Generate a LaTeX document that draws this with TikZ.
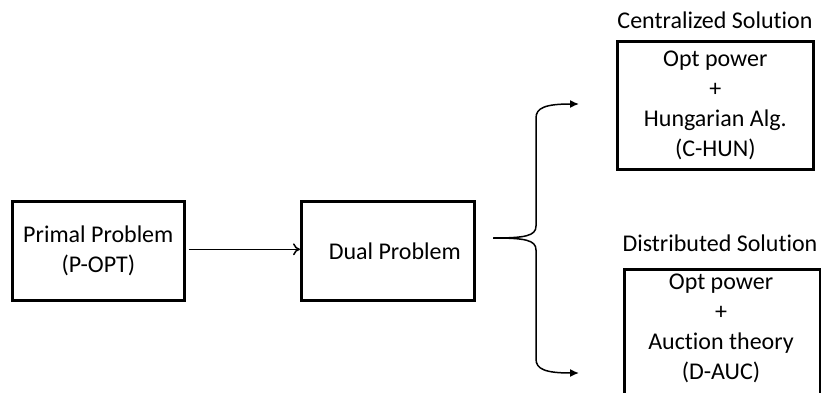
\documentclass[tikz,border=0pt]{standalone}
\usepackage{fontspec}
\setmainfont{Carlito}[Ligatures=NoCommon]
\usetikzlibrary{arrows.meta}
\begin{document}
\begin{tikzpicture}[x=1pt,y=-1pt,
  font=\fontsize{24}{30}\selectfont,
  box/.style={draw, line width=2.6pt, inner sep=0pt, anchor=north west, align=center},
  link/.style={line width=1.5pt},
  title/.style={inner sep=0pt}]
\useasboundingbox (0,0) rectangle (821,393);

% problem boxes
\node[box, minimum width=172pt, minimum height=99pt] (primal) at (11,200)
  {Primal Problem\\(P-OPT)};
\node[box, minimum width=173pt, minimum height=99pt] (dual) at (300,200)
  {\hspace*{14pt}Dual Problem};
\path (primal.east) ++(3pt,1.5pt) coordinate (pstart);
\draw[link, -{To[length=7pt,width=12pt]}] (pstart) -- (pstart -| dual.west);

% solution boxes
\node[title] (ctitle) at (715,20) {Centralized Solution};
\node[box, minimum width=196pt, minimum height=128pt] (cbox) at (616,40)
  {Opt power\\+\\Hungarian Alg.\\(C-HUN)};

\node[title] (dtitle) at (720,243) {Distributed Solution};
\node[box, minimum width=196pt, minimum height=140pt] (dbox) at (623,268) {};
\node[align=center, inner sep=0pt] (dtext) at (721,328)
  {Opt power\\+\\Auction theory\\(D-AUC)};

% brace splitting into both solutions
\coordinate (btip) at (493,238);
\coordinate (ctip) at (579,104);
\coordinate (dtip) at (579,373);
\draw[link, -{Latex[length=9pt,width=8pt]}]
  (btip) .. controls (525,238) and (536,236) .. (536,226)
  -- (536,118) .. controls (536,108) and (545,104) .. (ctip);
\draw[link, -{Latex[length=9pt,width=8pt]}]
  (btip) .. controls (525,238) and (536,240) .. (536,250)
  -- (536,359) .. controls (536,369) and (545,373) .. (dtip);
\end{tikzpicture}
\end{document}
